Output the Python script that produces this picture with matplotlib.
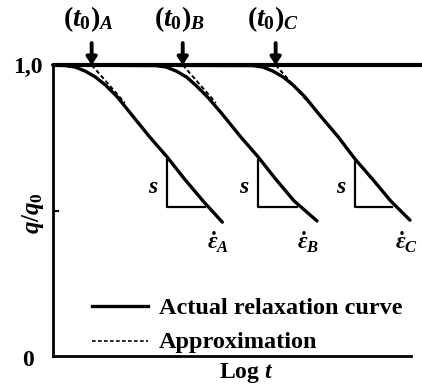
import matplotlib
matplotlib.use('Agg')
import matplotlib.pyplot as plt

plt.rcParams['font.family'] = 'Liberation Serif'
plt.rcParams['font.weight'] = 'bold'
plt.rcParams['mathtext.fontset'] = 'custom'
plt.rcParams['mathtext.rm'] = 'Liberation Serif:bold'
plt.rcParams['mathtext.it'] = 'Liberation Serif:italic:bold'
plt.rcParams['mathtext.bf'] = 'Liberation Serif:bold'

# relaxation curves, x = log t (arbitrary units), y = q/q0
xa = [0, 0.13, 0.24, 0.35, 0.46, 0.57, 0.70, 0.84, 1.05, 1.24, 1.43, 1.63, 1.84]
ya = [1.0, 0.998, 0.993, 0.979, 0.959, 0.931, 0.890, 0.835, 0.753, 0.684, 0.608, 0.533, 0.460]
xb = [0, 1.12, 1.23, 1.34, 1.45, 1.55, 1.68, 1.83, 2.04, 2.23, 2.42, 2.62, 2.87]
yb = [1.0, 0.998, 0.993, 0.979, 0.959, 0.931, 0.890, 0.835, 0.753, 0.684, 0.608, 0.533, 0.464]
xc = [0, 2.17, 2.28, 2.39, 2.50, 2.61, 2.74, 2.88, 3.10, 3.28, 3.48, 3.67, 3.88]
yc = [1.0, 0.998, 0.993, 0.979, 0.959, 0.931, 0.890, 0.835, 0.753, 0.678, 0.605, 0.533, 0.467]

t0 = [0.42, 1.41, 2.42]
t0_names = ['A', 'B', 'C']
approx_end_x = [0.78, 1.77, 2.78]
approx_end_y = 0.87

# slope triangles
tri_x = [1.24, 2.23, 3.28]
tri_top = [0.674, 0.674, 0.667]
tri_right = [1.65, 2.65, 3.68]
tri_bottom = 0.512

eps_x = [1.80, 2.77, 3.84]

fig = plt.figure(figsize=(4.22, 3.90), dpi=100)
ax = fig.add_axes([53/422, 34/390, 369/422, 291/390])
ax.set_xlim(0, 369/92)
ax.set_ylim(0, 1.0)

for sp in ['top', 'right']:
    ax.spines[sp].set_visible(False)
ax.spines['left'].set_linewidth(2.0)
ax.spines['bottom'].set_linewidth(2.0)
ax.spines['bottom'].set_bounds(0, 3.89)
ax.set_xticks([])
ax.set_yticks([])
ax.set_yticks([0.5], minor=True)
ax.tick_params(axis='y', which='minor', direction='in', length=4, width=1.5)
ax.set_yticklabels([], minor=True)

# the q/q0 = 1 line
ax.plot([0, 369/92], [1.0, 1.0], color='black', lw=3.0, clip_on=False, solid_capstyle='butt')

for x, y in [(xa, ya), (xb, yb), (xc, yc)]:
    ax.plot(x, y, color='black', lw=2.4, clip_on=False, solid_capstyle='round')

for i in range(3):
    ax.plot([t0[i], approx_end_x[i]], [1.0, approx_end_y], color='black',
            lw=1.4, linestyle=(0, (2.2, 1.4)))
    ax.annotate('', xy=(t0[i], 0.99), xytext=(t0[i], 1.085),
                arrowprops=dict(arrowstyle='-|>,head_width=0.3,head_length=0.45',
                                lw=2.8, color='black'),
                annotation_clip=False)
    ax.text(t0[i] - 0.03, 1.105, r'$(t_0)_%s$' % t0_names[i], ha='center',
            va='bottom', fontsize=20)
    ax.plot([tri_x[i], tri_x[i], tri_right[i]], [tri_top[i], tri_bottom, tri_bottom],
            color='black', lw=1.6)
    ax.text(tri_x[i] - 0.15, 0.578, r'$s$', ha='center', va='center', fontsize=17)
    ax.text(eps_x[i], 0.392, r'$\dot{\varepsilon}_%s$' % t0_names[i], ha='center',
            va='center', fontsize=17)

# legend
ax.plot([0.42, 1.03], [0.172, 0.172], color='black', lw=2.4)
ax.plot([0.42, 1.03], [0.052, 0.052], color='black', lw=1.2, linestyle=(0, (2.2, 1.4)))
ax.text(1.15, 0.146, 'Actual relaxation curve', ha='left', va='baseline', fontsize=17.5)
ax.text(1.15, 0.028, 'Approximation', ha='left', va='baseline', fontsize=17.5)

fig.text(43/422, 1 - 67/390, '1,0', ha='right', va='center', fontsize=17)
fig.text(34/422, 1 - 360/390, '0', ha='right', va='center', fontsize=17)
fig.text(33/422, 1 - 213/390, r'$q/q_0$', rotation=90, ha='center', va='center', fontsize=18)
fig.text(246/422, 12/390, r'Log $t$', ha='center', va='baseline', fontsize=17)

fig.savefig('out.png', dpi=100)
